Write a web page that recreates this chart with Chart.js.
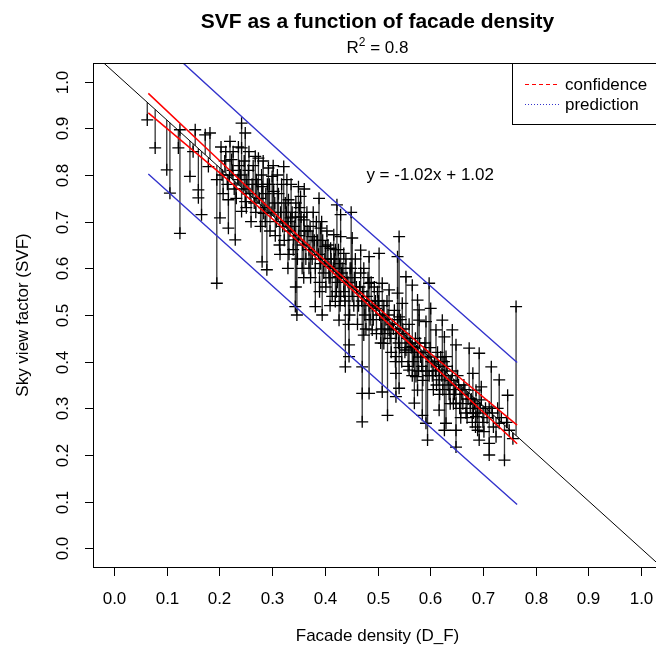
<!DOCTYPE html>
<html lang="en">
<head>
    <meta charset="UTF-8">
    <title>SVF as a function of facade density</title>
    <style>
        html, body{
            margin: 0;
            padding: 0;
            overflow: hidden;
            background: #ffffff;
        }
        #wrap{
            width: 680px;
            height: 654px;
        }
    </style>
</head>
<body>
    <div id="wrap">
        <canvas id="svf-chart" width="680" height="654"></canvas>
    </div>

    <script src="https://cdn.jsdelivr.net/npm/chart.js"></script>

    <script>
        // tick labels of both axes
        const xTicks = [0.0, 0.1, 0.2, 0.3, 0.4, 0.5, 0.6, 0.7, 0.8, 0.9, 1.0]
        const yTicks = [0.0, 0.1, 0.2, 0.3, 0.4, 0.5, 0.6, 0.7, 0.8, 0.9, 1.0]

        // observations: facade density (x) and SVF (y)
        const facadeDensity = [
            0.063, 0.078, 0.100, 0.106, 0.125, 0.195, 0.125, 0.122, 0.154, 0.150,
            0.144, 0.160, 0.160, 0.166, 0.173, 0.182, 0.179, 0.195, 0.201, 0.220,
            0.223, 0.217, 0.217, 0.230, 0.242, 0.242, 0.249, 0.252, 0.249, 0.242,
            0.268, 0.274, 0.281, 0.284, 0.281, 0.290, 0.293, 0.300, 0.303, 0.322,
            0.328, 0.331, 0.335, 0.341, 0.344, 0.347, 0.350, 0.354, 0.360, 0.376,
            0.382, 0.389, 0.392, 0.401, 0.408, 0.423, 0.427, 0.430, 0.436,
            0.541, 0.538, 0.503, 0.484, 0.468, 0.452, 0.417, 0.411, 0.427, 0.420,
            0.446, 0.446, 0.471, 0.471, 0.484, 0.509, 0.519, 0.535, 0.541, 0.490,
            0.497, 0.484, 0.509, 0.522, 0.538, 0.547, 0.541, 0.554, 0.566, 0.576,
            0.579, 0.579, 0.592, 0.598, 0.601, 0.611, 0.623, 0.627, 0.642, 0.649,
            0.630, 0.617, 0.617, 0.576, 0.570, 0.585, 0.592, 0.595, 0.617, 0.630,
            0.627, 0.649, 0.649, 0.649, 0.674, 0.681, 0.687, 0.687, 0.693, 0.697,
            0.697, 0.690, 0.693, 0.716, 0.712, 0.712, 0.712, 0.731, 0.731, 0.725,
            0.741, 0.747, 0.750, 0.763, 0.757, 0.474, 0.439, 0.471, 0.535, 0.554,
            0.566, 0.560, 0.573, 0.535, 0.522, 0.512,
            0.205, 0.210, 0.215, 0.225, 0.228, 0.235, 0.238, 0.245, 0.255, 0.258,
            0.262, 0.266, 0.270, 0.276, 0.280, 0.285, 0.288, 0.295, 0.298, 0.305,
            0.308, 0.312, 0.316, 0.320, 0.325, 0.330, 0.334, 0.338, 0.342, 0.345,
            0.350, 0.355, 0.358, 0.362, 0.366, 0.370, 0.372, 0.376, 0.380, 0.384,
            0.388, 0.392, 0.396, 0.400, 0.404, 0.408, 0.412, 0.416, 0.420, 0.424,
            0.428, 0.432, 0.436, 0.440, 0.444, 0.448, 0.452, 0.456, 0.460, 0.464,
            0.468, 0.472, 0.476, 0.480, 0.484, 0.488, 0.492, 0.496, 0.500, 0.504,
            0.508, 0.512, 0.516, 0.520, 0.524, 0.528, 0.532, 0.536, 0.540, 0.544,
            0.548, 0.552, 0.556, 0.560, 0.564, 0.568, 0.572, 0.576, 0.580, 0.584,
            0.588, 0.592, 0.596, 0.600, 0.604, 0.608, 0.612, 0.616, 0.620, 0.624,
            0.628, 0.632, 0.636, 0.640, 0.644, 0.648, 0.652, 0.656, 0.660, 0.664,
            0.668, 0.672, 0.676, 0.680, 0.684, 0.690, 0.700, 0.705, 0.720, 0.735,
            0.330, 0.360, 0.390, 0.370, 0.410, 0.430, 0.315, 0.345, 0.395, 0.445,
            0.203, 0.207, 0.212, 0.219, 0.226, 0.232, 0.236, 0.240, 0.247, 0.251,
            0.256, 0.260, 0.264, 0.269, 0.273, 0.278, 0.283, 0.287, 0.291, 0.296,
            0.302, 0.306, 0.310, 0.314, 0.318, 0.323, 0.327, 0.332, 0.336, 0.340,
            0.344, 0.348, 0.352, 0.357, 0.361, 0.364, 0.368, 0.373, 0.378, 0.382,
            0.386, 0.390, 0.394, 0.398, 0.402, 0.406, 0.410, 0.414, 0.418, 0.422,
            0.426, 0.429, 0.433, 0.438, 0.442, 0.447, 0.450, 0.455, 0.458, 0.462,
            0.466, 0.470, 0.474, 0.478, 0.482, 0.486, 0.490, 0.494, 0.498, 0.502,
            0.506, 0.510, 0.514, 0.518, 0.526, 0.530, 0.534, 0.538, 0.542, 0.546,
            0.550, 0.558, 0.562, 0.566, 0.570, 0.578, 0.582, 0.586, 0.590, 0.598,
            0.602, 0.606, 0.610, 0.614, 0.618, 0.622, 0.626, 0.634, 0.638, 0.642,
            0.646, 0.654, 0.658, 0.662, 0.666, 0.670, 0.678, 0.682, 0.686, 0.695,
            0.702, 0.708, 0.718, 0.728, 0.745, 0.450, 0.430
        ]
        const skyViewFactor = [
            0.918, 0.858, 0.811, 0.761, 0.675, 0.568, 0.897, 0.858, 0.897, 0.850,
            0.797, 0.768, 0.751, 0.715, 0.886, 0.890, 0.818, 0.790, 0.708, 0.872,
            0.833, 0.747, 0.686, 0.661, 0.911, 0.858, 0.890, 0.790, 0.743, 0.722,
            0.840, 0.836, 0.775, 0.718, 0.614, 0.597, 0.815, 0.797, 0.765, 0.818,
            0.790, 0.747, 0.708, 0.661, 0.518, 0.500, 0.775, 0.754, 0.704, 0.668,
            0.518, 0.750, 0.686, 0.647, 0.604, 0.736, 0.489, 0.668, 0.632,
            0.668, 0.625, 0.632, 0.625, 0.639, 0.665, 0.672, 0.643, 0.582, 0.529,
            0.436, 0.411, 0.389, 0.271, 0.332, 0.335, 0.285, 0.325, 0.343, 0.468,
            0.514, 0.568, 0.568, 0.554, 0.547, 0.525, 0.496, 0.582, 0.564, 0.532,
            0.511, 0.489, 0.486, 0.568, 0.514, 0.468, 0.489, 0.453, 0.468, 0.436,
            0.411, 0.382, 0.361, 0.339, 0.311, 0.285, 0.268, 0.232, 0.296, 0.268,
            0.253, 0.311, 0.253, 0.217, 0.429, 0.375, 0.339, 0.282, 0.418, 0.346,
            0.318, 0.253, 0.232, 0.389, 0.303, 0.225, 0.200, 0.361, 0.268, 0.239,
            0.189, 0.328, 0.253, 0.518, 0.235, 0.457, 0.389, 0.332, 0.411, 0.425,
            0.432, 0.382, 0.368, 0.375, 0.468, 0.439,
            0.800, 0.830, 0.780, 0.810, 0.770, 0.790, 0.820, 0.770, 0.810, 0.760,
            0.780, 0.740, 0.790, 0.750, 0.800, 0.730, 0.760, 0.780, 0.720, 0.740,
            0.700, 0.760, 0.720, 0.690, 0.740, 0.700, 0.680, 0.720, 0.690, 0.740,
            0.670, 0.710, 0.650, 0.680, 0.720, 0.640, 0.690, 0.620, 0.660, 0.700,
            0.630, 0.610, 0.660, 0.620, 0.680, 0.580, 0.620, 0.600, 0.640, 0.570,
            0.610, 0.590, 0.550, 0.620, 0.570, 0.600, 0.540, 0.580, 0.560, 0.520,
            0.590, 0.550, 0.500, 0.540, 0.520, 0.570, 0.490, 0.530, 0.550, 0.500,
            0.470, 0.520, 0.490, 0.500, 0.450, 0.480, 0.510, 0.460, 0.440, 0.490,
            0.470, 0.420, 0.450, 0.480, 0.430, 0.400, 0.450, 0.420, 0.440, 0.390,
            0.420, 0.380, 0.410, 0.430, 0.370, 0.400, 0.350, 0.390, 0.410, 0.340,
            0.370, 0.390, 0.330, 0.360, 0.310, 0.340, 0.370, 0.300, 0.330, 0.350,
            0.290, 0.320, 0.300, 0.270, 0.310, 0.290, 0.270, 0.300, 0.260, 0.280,
            0.600, 0.580, 0.550, 0.600, 0.520, 0.540, 0.630, 0.560, 0.500, 0.480,
            0.860, 0.760, 0.850, 0.800, 0.850, 0.750, 0.860, 0.800, 0.830, 0.730,
            0.850, 0.700, 0.820, 0.720, 0.780, 0.690, 0.830, 0.700, 0.780, 0.680,
            0.820, 0.670, 0.800, 0.650, 0.780, 0.660, 0.720, 0.630, 0.780, 0.640,
            0.710, 0.620, 0.730, 0.600, 0.770, 0.620, 0.680, 0.580, 0.720, 0.600,
            0.660, 0.570, 0.700, 0.590, 0.560, 0.650, 0.580, 0.540, 0.620, 0.550,
            0.640, 0.520, 0.600, 0.530, 0.580, 0.500, 0.600, 0.520, 0.620, 0.480,
            0.560, 0.530, 0.600, 0.470, 0.580, 0.490, 0.520, 0.560, 0.460, 0.530,
            0.440, 0.500, 0.460, 0.530, 0.420, 0.470, 0.400, 0.490, 0.430, 0.400,
            0.460, 0.390, 0.440, 0.370, 0.420, 0.380, 0.410, 0.360, 0.440, 0.370,
            0.400, 0.340, 0.380, 0.420, 0.330, 0.370, 0.400, 0.350, 0.310, 0.380,
            0.330, 0.350, 0.280, 0.310, 0.340, 0.280, 0.320, 0.290, 0.260, 0.300,
            0.250, 0.280, 0.290, 0.300, 0.270, 0.720, 0.715
        ]

        // fitted line y = -1.02x + 1.02
        const fitSlope = -1.02
        const fitIntercept = 1.02
        const fitLineX = [-0.1, 1.1]

        // confidence band (red) and prediction band (blue)
        const confX = [0.065, 0.2, 0.35, 0.45, 0.6, 0.765]
        const confUpper = [0.975, 0.831, 0.669, 0.566, 0.418, 0.264]
        const confLower = [0.933, 0.805, 0.657, 0.556, 0.398, 0.224]
        const predX = [0.065, 0.415, 0.765]
        const predUpper = [1.108, 0.747, 0.398]
        const predLower = [0.802, 0.446, 0.094]

        function fitAt(x){
            return fitSlope * x + fitIntercept
        }

        var pointData = []
        var residData = []
        facadeDensity.forEach((fx, i) => {
            pointData.push({x: fx, y: skyViewFactor[i]})
            residData.push({x: fx, y: skyViewFactor[i]})
            residData.push({x: fx, y: fitAt(fx)})
            residData.push({x: fx, y: null})
        })

        const fitData = fitLineX.map(v => ({x: v, y: fitAt(v)}))
        const confUpData = confX.map((v, i) => ({x: v, y: confUpper[i]}))
        const confLoData = confX.map((v, i) => ({x: v, y: confLower[i]}))
        const predUpData = predX.map((v, i) => ({x: v, y: predUpper[i]}))
        const predLoData = predX.map((v, i) => ({x: v, y: predLower[i]}))

        const FONT = '"Liberation Sans", Arial, Helvetica, sans-serif'

        const rDecor = {
            id: 'rDecor',
            afterDraw(chart){
                const ctx = chart.ctx
                const a = chart.chartArea
                const sx = chart.scales.x
                const sy = chart.scales.y
                ctx.save()
                ctx.strokeStyle = '#000'
                ctx.fillStyle = '#000'
                ctx.lineWidth = 1

                // plot box
                ctx.strokeRect(Math.round(a.left) + 0.5, Math.round(a.top) + 0.5,
                    Math.round(a.right - a.left), Math.round(a.bottom - a.top))

                // x axis
                ctx.font = '17px ' + FONT
                ctx.textAlign = 'center'
                ctx.textBaseline = 'alphabetic'
                xTicks.forEach(v => {
                    const px = Math.round(sx.getPixelForValue(v)) + 0.5
                    ctx.beginPath()
                    ctx.moveTo(px, a.bottom)
                    ctx.lineTo(px, a.bottom + 9)
                    ctx.stroke()
                    ctx.fillText(v.toFixed(1), px, a.bottom + 37)
                })

                // y axis, labels turned like R does
                yTicks.forEach(v => {
                    const py = Math.round(sy.getPixelForValue(v)) + 0.5
                    ctx.beginPath()
                    ctx.moveTo(a.left, py)
                    ctx.lineTo(a.left - 8, py)
                    ctx.stroke()
                    ctx.save()
                    ctx.translate(a.left - 25, py)
                    ctx.rotate(-Math.PI / 2)
                    ctx.fillText(v.toFixed(1), 0, 0)
                    ctx.restore()
                })

                const midX = (a.left + a.right) / 2
                const midY = (a.top + a.bottom) / 2

                // axis titles
                ctx.fillText('Facade density (D_F)', midX, 641)
                ctx.save()
                ctx.translate(28, midY)
                ctx.rotate(-Math.PI / 2)
                ctx.fillText('Sky view factor (SVF)', 0, 0)
                ctx.restore()

                // main title
                ctx.font = 'bold 21px ' + FONT
                ctx.fillText('SVF as a function of facade density', midX, 28)

                // R^2 subtitle
                ctx.font = '17px ' + FONT
                const wR = ctx.measureText('R').width
                const rest = ' = 0.8'
                const wRest = ctx.measureText(rest).width
                ctx.font = '12px ' + FONT
                const w2 = ctx.measureText('2').width
                const startX = midX - (wR + w2 + wRest) / 2
                ctx.textAlign = 'left'
                ctx.font = '17px ' + FONT
                ctx.fillText('R', startX, 53)
                ctx.font = '12px ' + FONT
                ctx.fillText('2', startX + wR, 46)
                ctx.font = '17px ' + FONT
                ctx.fillText(rest, startX + wR + w2, 53)

                // equation
                ctx.textAlign = 'center'
                ctx.textBaseline = 'middle'
                ctx.fillText('y = -1.02x + 1.02', sx.getPixelForValue(0.6), sy.getPixelForValue(0.8))

                // legend, top right inside the box
                const lx = 512
                const ly = Math.round(a.top) + 0.5
                ctx.fillStyle = '#fff'
                ctx.fillRect(lx, ly, a.right - lx, 61)
                ctx.strokeStyle = '#000'
                ctx.strokeRect(lx + 0.5, ly, a.right - lx, 61)

                ctx.lineWidth = 1
                ctx.strokeStyle = '#ff0000'
                ctx.setLineDash([4, 3])
                ctx.beginPath()
                ctx.moveTo(525, 84.5)
                ctx.lineTo(560, 84.5)
                ctx.stroke()
                ctx.strokeStyle = '#3333cc'
                ctx.setLineDash([1, 2])
                ctx.beginPath()
                ctx.moveTo(525, 104.5)
                ctx.lineTo(560, 104.5)
                ctx.stroke()
                ctx.setLineDash([])

                ctx.fillStyle = '#000'
                ctx.textAlign = 'left'
                ctx.textBaseline = 'alphabetic'
                ctx.fillText('confidence', 565, 90)
                ctx.fillText('prediction', 565, 110)

                ctx.restore()
            }
        }

        new Chart(document.getElementById('svf-chart'), {
            type: 'scatter',
            data: {
                datasets: [
                    {
                        label: 'residuals',
                        data: residData,
                        showLine: true,
                        spanGaps: false,
                        borderColor: 'rgba(0,0,0,0.8)',
                        borderWidth: 1.3,
                        pointRadius: 0,
                        order: 6
                    },
                    {
                        label: 'observations',
                        data: pointData,
                        pointStyle: 'cross',
                        pointRadius: 6,
                        borderColor: '#000',
                        borderWidth: 1.3,
                        order: 5
                    },
                    {
                        label: 'fit',
                        data: fitData,
                        showLine: true,
                        borderColor: '#000',
                        borderWidth: 1,
                        pointRadius: 0,
                        clip: 0,
                        order: 4
                    },
                    {
                        label: 'conf upper',
                        data: confUpData,
                        showLine: true,
                        borderColor: '#ff0000',
                        borderWidth: 1.5,
                        pointRadius: 0,
                        order: 3
                    },
                    {
                        label: 'conf lower',
                        data: confLoData,
                        showLine: true,
                        borderColor: '#ff0000',
                        borderWidth: 1.5,
                        pointRadius: 0,
                        order: 3
                    },
                    {
                        label: 'pred upper',
                        data: predUpData,
                        showLine: true,
                        borderColor: '#3333cc',
                        borderWidth: 1.4,
                        pointRadius: 0,
                        clip: 0,
                        order: 2
                    },
                    {
                        label: 'pred lower',
                        data: predLoData,
                        showLine: true,
                        borderColor: '#3333cc',
                        borderWidth: 1.4,
                        pointRadius: 0,
                        clip: 0,
                        order: 2
                    }
                ]
            },
            options: {
                responsive: false,
                animation: false,
                layout: {
                    padding: {left: 93, top: 63, right: 18, bottom: 87}
                },
                scales: {
                    x: {type: 'linear', min: -0.04, max: 1.04, display: false},
                    y: {type: 'linear', min: -0.04, max: 1.04, display: false}
                },
                plugins: {
                    legend: {display: false},
                    tooltip: {enabled: false}
                }
            },
            plugins: [rDecor]
        })
    </script>
</body>
</html>
